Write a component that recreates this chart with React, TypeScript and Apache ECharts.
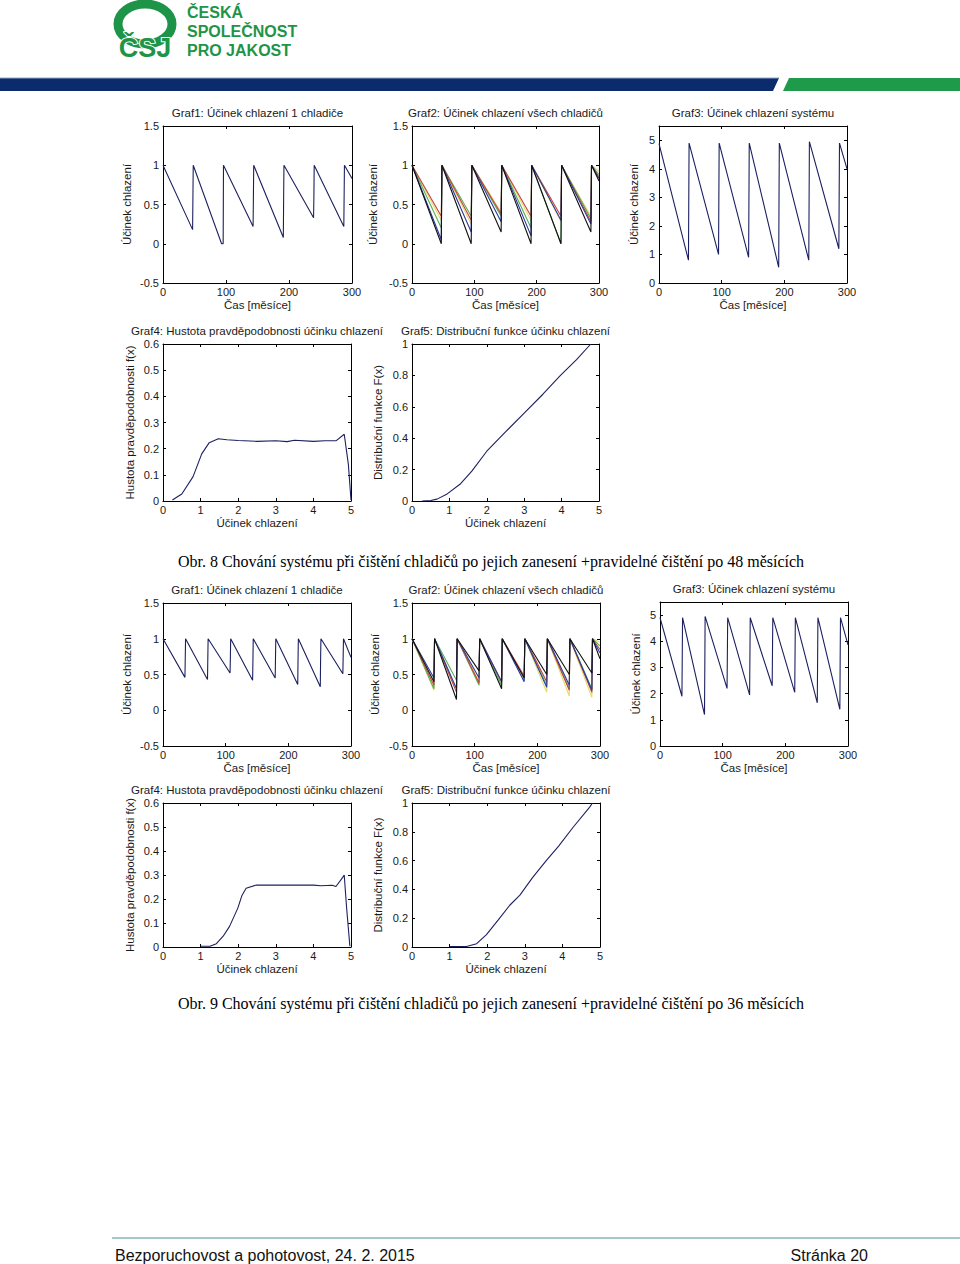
import React, { useEffect, useRef } from 'react';
import * as echarts from 'echarts';

type P = [number, number];

// ---------- Obr. 8 : cleaning every 48 months ----------
const F8_G1: P[] = [[0, 1], [47, 0.18], [47.5, 0.6], [48, 1], [93, 0], [95.5, 0], [96, 1], [143, 0.22], [143.5, 0.6], [144, 1], [191, 0.08], [191.5, 0.6], [192, 1], [239, 0.33], [239.5, 0.6], [240, 1], [287, 0.22], [287.5, 0.6], [288, 1], [300, 0.83]];
// minima of each cooler before every cleaning (48..288), last value = value at 300
const F8_C_YELLOW = [0.3, 0.25, 0.4, 0.3, 0.28, 0.35, 0.92];
const F8_C_GREEN = [0.2, 0.35, 0.35, 0.2, 0.0, 0.32, 0.88];
const F8_C_RED = [0.35, 0.3, 0.38, 0.35, 0.35, 0.28, 0.85];
const F8_C_BLUE = [0.05, 0.15, 0.28, 0.1, 0.3, 0.25, 0.83];
const F8_C_BLACK = [0.0, 0.0, 0.15, 0.0, 0.0, 0.15, 0.8];
const F8_G3: P[] = [[0, 4.88], [47, 0.8], [47.5, 2.9], [48, 4.9], [95, 1.0], [95.5, 2.9], [96, 4.9], [143, 0.9], [143.5, 2.9], [144, 4.9], [191, 0.55], [191.5, 2.9], [192, 4.9], [239, 0.8], [239.5, 2.85], [240, 4.95], [287, 1.2], [287.5, 3.05], [288, 4.9], [300, 4.0]];
const F8_PDF: P[] = [[0.25, 0.004], [0.5, 0.027], [0.8, 0.093], [1.03, 0.18], [1.23, 0.223], [1.47, 0.238], [1.7, 0.234], [2.0, 0.231], [2.5, 0.228], [3.0, 0.23], [3.3, 0.227], [3.5, 0.232], [4.0, 0.228], [4.3, 0.23], [4.6, 0.23], [4.82, 0.255], [4.93, 0.14], [5.0, 0.004]];
const F8_CDF: P[] = [[0.27, 0], [0.5, 0.003], [0.67, 0.012], [0.94, 0.045], [1.3, 0.11], [1.6, 0.19], [2.0, 0.317], [2.5, 0.44], [3.0, 0.56], [3.5, 0.68], [3.97, 0.8], [4.4, 0.9], [4.78, 1.0]];

// ---------- Obr. 9 : cleaning every 36 months ----------
const F9_G1: P[] = [[0, 1], [35, 0.46], [35.5, 0.72], [36, 1], [71, 0.43], [71.5, 0.72], [72, 1], [107, 0.52], [107.5, 0.73], [108, 1], [143, 0.42], [143.5, 0.7], [144, 1], [179, 0.45], [179.5, 0.72], [180, 1], [215, 0.36], [215.5, 0.72], [216, 1], [251, 0.33], [251.5, 0.72], [252, 1], [287, 0.51], [287.5, 0.75], [288, 1], [300, 0.74]];
const F9_C_YELLOW = [0.28, 0.3, 0.4, 0.35, 0.42, 0.25, 0.2, 0.18, 0.95];
const F9_C_GREEN = [0.3, 0.42, 0.35, 0.35, 0.45, 0.35, 0.3, 0.3, 0.9];
const F9_C_RED = [0.35, 0.25, 0.38, 0.4, 0.48, 0.4, 0.28, 0.25, 0.85];
const F9_C_BLUE = [0.45, 0.3, 0.45, 0.4, 0.4, 0.32, 0.35, 0.28, 0.8];
const F9_C_BLACK = [0.4, 0.15, 0.55, 0.3, 0.45, 0.5, 0.5, 0.52, 0.72];
const F9_G3: P[] = [[0, 4.9], [35, 1.9], [35.5, 3.4], [36, 4.9], [71, 1.2], [71.5, 3.0], [72, 4.95], [107, 2.2], [107.5, 3.5], [108, 4.9], [143, 1.95], [143.5, 3.5], [144, 4.9], [179, 2.3], [179.5, 3.6], [180, 4.9], [215, 2.05], [215.5, 3.5], [216, 4.9], [251, 1.65], [251.5, 3.3], [252, 4.9], [287, 1.4], [287.5, 3.3], [288, 4.9], [300, 3.86]];
const F9_PDF: P[] = [[1.0, 0.003], [1.25, 0.003], [1.42, 0.014], [1.6, 0.045], [1.77, 0.086], [1.99, 0.162], [2.1, 0.215], [2.21, 0.245], [2.48, 0.258], [3.0, 0.258], [3.5, 0.258], [4.0, 0.258], [4.2, 0.255], [4.5, 0.257], [4.6, 0.252], [4.78, 0.29], [4.82, 0.3], [4.88, 0.17], [4.97, 0.003]];
const F9_CDF: P[] = [[1.0, 0.003], [1.45, 0.003], [1.72, 0.023], [1.98, 0.086], [2.3, 0.19], [2.6, 0.29], [2.87, 0.36], [3.2, 0.48], [3.57, 0.6], [3.9, 0.7], [4.28, 0.83], [4.72, 0.97], [4.8, 1.0]];

// axis ranges [min, max, interval]
const TIME_X = [0, 300, 100];
const EFF_Y = [-0.5, 1.5, 0.5];
const SYS_Y = [0, 5.5, 1];
const VAL_X = [0, 5, 1];
const PDF_Y = [0, 0.6, 0.1];
const CDF_Y = [0, 1, 0.2];

const TITLES = [
  'Graf1: Účinek chlazení 1 chladiče',
  'Graf2: Účinek chlazení všech chladičů',
  'Graf3: Účinek chlazení systému',
  'Graf4: Hustota pravděpodobnosti účinku chlazení',
  'Graf5: Distribuční funkce účinku chlazení',
];
const CAPTIONS = [
  'Obr. 8 Chování systému při čištění chladičů po jejich zanesení +pravidelné čištění po 48 měsících',
  'Obr. 9 Chování systému při čištění chladičů po jejich zanesení +pravidelné čištění po 36 měsících',
];

const NAVY = '#1c2060';
const COOLER_COLORS = ['#e4dc6a', '#55b05a', '#c8403c', '#2b3aa0', '#111111'];
const GREEN = '#1e9448';
const FONT = "'Liberation Sans', Arial, sans-serif";

function cooler(period: number, mins: number[]): P[] {
  const pts: P[] = [[0, 1]];
  for (let k = 0; k < mins.length - 1; k++) {
    const t = (k + 1) * period;
    pts.push([t - 1, mins[k]]);
    pts.push([t, 1]);
  }
  pts.push([300, mins[mins.length - 1]]);
  return pts;
}

export default function App() {
  const ref = useRef<HTMLDivElement>(null);
  useEffect(() => {
    if (!ref.current) return;
    const chart = echarts.init(ref.current, undefined, { renderer: 'svg' });

    const f8c = [F8_C_YELLOW, F8_C_GREEN, F8_C_RED, F8_C_BLUE, F8_C_BLACK].map((m) => cooler(48, m));
    const f9c = [F9_C_YELLOW, F9_C_GREEN, F9_C_RED, F9_C_BLUE, F9_C_BLACK].map((m) => cooler(36, m));

    const panels = [
      // Obr. 8
      { l: 163, t: 126, w: 189, h: 157, x: TIME_X, y: EFF_Y, xn: 'Čas [měsíce]', yn: 'Účinek chlazení', yg: 30, ti: 0, s: [F8_G1], c: [NAVY] },
      { l: 412, t: 126, w: 187, h: 157, x: TIME_X, y: EFF_Y, xn: 'Čas [měsíce]', yn: 'Účinek chlazení', yg: 33, ti: 1, s: f8c, c: COOLER_COLORS },
      { l: 659, t: 126, w: 188, h: 157, x: TIME_X, y: SYS_Y, xn: 'Čas [měsíce]', yn: 'Účinek chlazení', yg: 19, ti: 2, s: [F8_G3], c: [NAVY] },
      { l: 163, t: 344, w: 188, h: 157, x: VAL_X, y: PDF_Y, xn: 'Účinek chlazení', yn: 'Hustota pravděpodobnosti f(x)', yg: 27, ti: 3, s: [F8_PDF], c: [NAVY] },
      { l: 412, t: 344, w: 187, h: 157, x: VAL_X, y: CDF_Y, xn: 'Účinek chlazení', yn: 'Distribuční funkce F(x)', yg: 28, ti: 4, s: [F8_CDF], c: [NAVY] },
      // Obr. 9
      { l: 163, t: 603, w: 188, h: 143, x: TIME_X, y: EFF_Y, xn: 'Čas [měsíce]', yn: 'Účinek chlazení', yg: 30, ti: 0, s: [F9_G1], c: [NAVY] },
      { l: 412, t: 603, w: 188, h: 143, x: TIME_X, y: EFF_Y, xn: 'Čas [měsíce]', yn: 'Účinek chlazení', yg: 31, ti: 1, s: f9c, c: COOLER_COLORS },
      { l: 660, t: 602, w: 188, h: 144, x: TIME_X, y: SYS_Y, xn: 'Čas [měsíce]', yn: 'Účinek chlazení', yg: 18, ti: 2, s: [F9_G3], c: [NAVY] },
      { l: 163, t: 803, w: 188, h: 144, x: VAL_X, y: PDF_Y, xn: 'Účinek chlazení', yn: 'Hustota pravděpodobnosti f(x)', yg: 27, ti: 3, s: [F9_PDF], c: [NAVY] },
      { l: 412, t: 803, w: 188, h: 144, x: VAL_X, y: CDF_Y, xn: 'Účinek chlazení', yn: 'Distribuční funkce F(x)', yg: 28, ti: 4, s: [F9_CDF], c: [NAVY] },
    ];

    const grid: any[] = [];
    const xAxis: any[] = [];
    const yAxis: any[] = [];
    const series: any[] = [];
    const graphic: any[] = [];

    const line = { show: true, onZero: false, lineStyle: { color: '#000', width: 1 } };
    const tick = { show: true, inside: true, length: 3, lineStyle: { color: '#000', width: 1 } };
    const lbl = { fontSize: 11, color: '#1a1a1a', fontFamily: FONT };

    panels.forEach((p, i) => {
      grid.push({ left: p.l, top: p.t, width: p.w, height: p.h, show: false });
      const isSys = p.y === SYS_Y;
      xAxis.push({
        type: 'value', gridIndex: i, position: 'bottom', min: p.x[0], max: p.x[1], interval: p.x[2],
        axisLine: line, axisTick: tick, splitLine: { show: false },
        axisLabel: { ...lbl, margin: 3 },
        name: p.xn, nameLocation: 'middle', nameGap: 16,
        nameTextStyle: { fontSize: 11.5, color: '#1a1a1a', fontFamily: FONT },
      });
      xAxis.push({
        type: 'value', gridIndex: i, position: 'top', min: p.x[0], max: p.x[1], interval: p.x[2],
        axisLine: line, axisTick: tick, splitLine: { show: false }, axisLabel: { show: false },
      });
      yAxis.push({
        type: 'value', gridIndex: i, position: 'left', min: p.y[0], max: p.y[1], interval: p.y[2],
        axisLine: line, axisTick: tick, splitLine: { show: false },
        axisLabel: { ...lbl, margin: 4, formatter: (v: number) => (isSys && v > 5.01 ? '' : String(v)) },
        name: p.yn, nameLocation: 'middle', nameGap: p.yg,
        nameTextStyle: { fontSize: 11.5, color: '#1a1a1a', fontFamily: FONT },
      });
      yAxis.push({
        type: 'value', gridIndex: i, position: 'right', min: p.y[0], max: p.y[1], interval: p.y[2],
        axisLine: line, axisTick: tick, splitLine: { show: false }, axisLabel: { show: false },
      });
      p.s.forEach((d, k) => {
        series.push({
          type: 'line', xAxisIndex: 2 * i, yAxisIndex: 2 * i, data: d, symbol: 'none', showSymbol: false,
          lineStyle: { width: 1.1, color: p.c[k] }, itemStyle: { color: p.c[k] }, silent: true, z: 2 + k,
        });
      });
      graphic.push({
        type: 'text', x: p.l + p.w / 2, y: p.t - 13,
        style: { text: TITLES[p.ti], fontSize: 11.5, fontFamily: FONT, fill: '#1a1a1a', align: 'center', verticalAlign: 'middle' },
      });
    });

    // captions
    graphic.push({ type: 'text', x: 491, y: 561, style: { text: CAPTIONS[0], fontSize: 16, fontFamily: "'Liberation Serif', serif", fill: '#000', align: 'center', verticalAlign: 'middle' } });
    graphic.push({ type: 'text', x: 491, y: 1003, style: { text: CAPTIONS[1], fontSize: 16, fontFamily: "'Liberation Serif', serif", fill: '#000', align: 'center', verticalAlign: 'middle' } });

    // header logo
    graphic.push({ type: 'ellipse', shape: { cx: 145, cy: 24, rx: 27, ry: 20 }, style: { fill: 'none', stroke: GREEN, lineWidth: 9 } });
    graphic.push({ type: 'text', x: 145, y: 48, style: { text: 'ČSJ', fontSize: 27, fontWeight: 'bold', fontFamily: FONT, fill: GREEN, stroke: '#fff', lineWidth: 2, align: 'center', verticalAlign: 'middle' } });
    [['ČESKÁ', 12], ['SPOLEČNOST', 31], ['PRO JAKOST', 50]].forEach(([t, y]) => {
      graphic.push({ type: 'text', x: 187, y: y as number, style: { text: t as string, fontSize: 16, fontWeight: 'bold', fontFamily: FONT, fill: GREEN, align: 'left', verticalAlign: 'middle' } });
    });
    graphic.push({ type: 'polygon', shape: { points: [[0, 78], [779, 78], [773, 91], [0, 91]] }, style: { fill: '#0b2c6c' } });
    graphic.push({ type: 'line', shape: { x1: 0, y1: 78, x2: 779, y2: 78 }, style: { stroke: '#8ea6c8', lineWidth: 1 } });
    graphic.push({ type: 'polygon', shape: { points: [[789, 78], [960, 78], [960, 91], [783, 91]] }, style: { fill: '#1f9a4a' } });

    // footer
    graphic.push({ type: 'line', shape: { x1: 112, y1: 1238, x2: 960, y2: 1238 }, style: { stroke: '#4f8f99', lineWidth: 1 } });
    graphic.push({ type: 'text', x: 115, y: 1255, style: { text: 'Bezporuchovost a pohotovost, 24. 2. 2015', fontSize: 16, fontFamily: FONT, fill: '#111', align: 'left', verticalAlign: 'middle' } });
    graphic.push({ type: 'text', x: 868, y: 1255, style: { text: 'Stránka 20', fontSize: 16, fontFamily: FONT, fill: '#111', align: 'right', verticalAlign: 'middle' } });

    chart.setOption({ animation: false, backgroundColor: '#fff', grid, xAxis, yAxis, series, graphic });
    return () => chart.dispose();
  }, []);
  return <div ref={ref} style={{ position: 'absolute', left: 0, top: 0, width: 960, height: 1264, background: '#fff' }} />;
}
